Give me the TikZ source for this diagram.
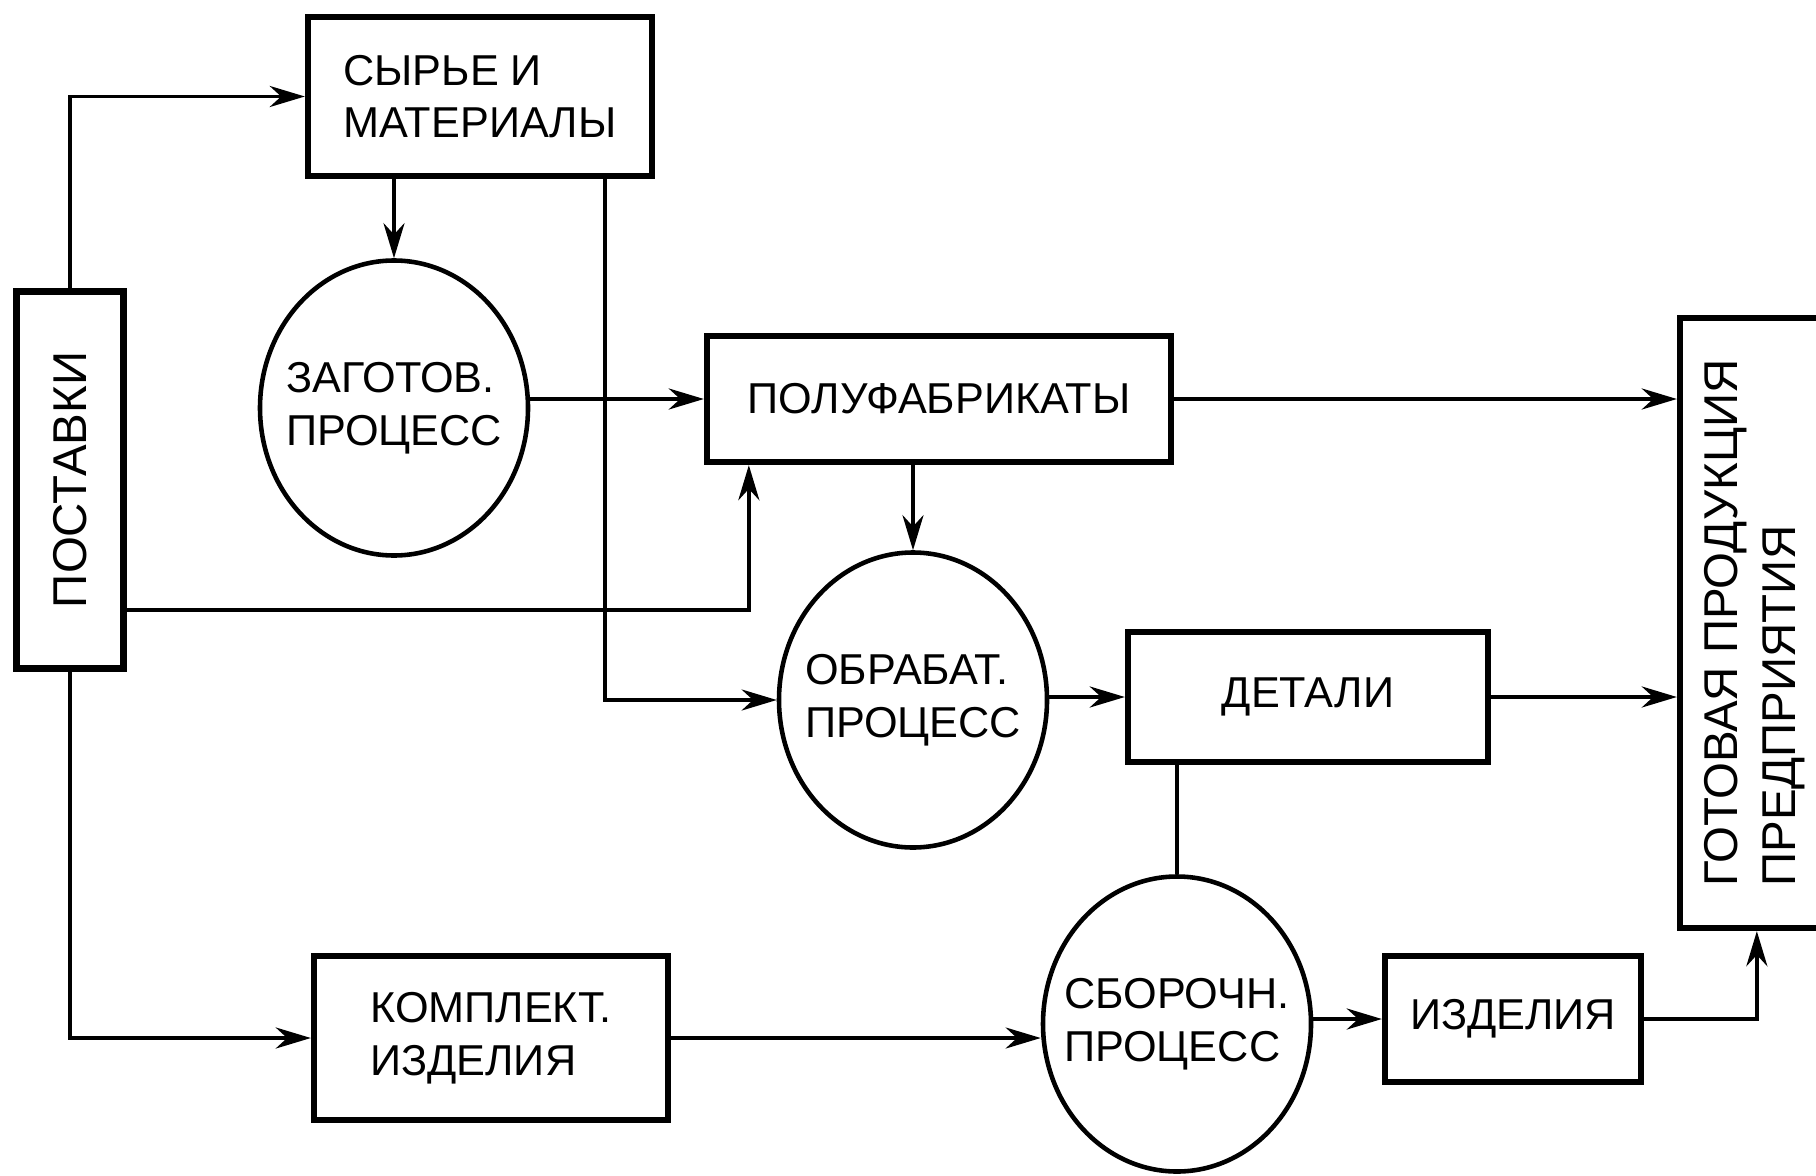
\documentclass[tikz,border=0pt]{standalone}
\usepackage{fontspec}
\setmainfont{Liberation Sans}
\usepackage{tikz}
\usetikzlibrary{shapes,arrows.meta,positioning,calc}

\begin{document}
\begin{tikzpicture}[
    block/.style={rectangle, draw, line width=1.8pt, align=left, inner sep=2pt, font=\fontsize{12.3}{15}\selectfont},
    proc/.style={ellipse, draw, line width=1.3pt, align=left, inner sep=-0.25cm, minimum width=2.68cm, minimum height=2.95cm, font=\fontsize{12.3}{15}\selectfont},
    arrow/.style={-{Stealth[length=10pt, width=6pt]}, line width=1pt},
    link/.style={line width=1pt}
]
\useasboundingbox (0,0) rectangle (18.16,-11.75);

% Supply and raw materials
\node[block, minimum width=1.07cm, minimum height=3.77cm, font=\fontsize{13.5}{16}\selectfont] (post) at (0.70,-4.80) {\rotatebox{90}{ПОСТАВКИ}};
\node[block, minimum width=3.44cm, minimum height=1.59cm] (syr) at (4.80,-0.965) {СЫРЬЕ И\\МАТЕРИАЛЫ};

% Processes
\node[proc] (zag) at (3.94,-4.08) {ЗАГОТОВ.\\ПРОЦЕСС};
\node[proc] (obr) at (9.13,-7.00) {ОБРАБАТ.\\ПРОЦЕСС};
\node[proc] (sbo) at (11.77,-10.24) {СБОРОЧН.\\ПРОЦЕСС};

% Intermediate products
\node[block, minimum width=4.64cm, minimum height=1.26cm] (pol) at (9.39,-3.99) {ПОЛУФАБРИКАТЫ};
\node[block, minimum width=3.60cm, minimum height=1.30cm] (det) at (13.08,-6.97) {ДЕТАЛИ};
\node[block, minimum width=3.54cm, minimum height=1.64cm] (kom) at (4.91,-10.38) {КОМПЛЕКТ.\\ИЗДЕЛИЯ};
\node[block, minimum width=2.56cm, minimum height=1.26cm] (izd) at (15.13,-10.19) {ИЗДЕЛИЯ};

% Finished output
\node[block, minimum width=1.5cm, minimum height=6.1cm] (got) at (17.55,-6.23) {};
\node[align=left, font=\fontsize{13.5}{16.5}\selectfont] (gottxt) at (got) {\rotatebox{90}{\begin{tabular}{@{}l@{}}ГОТОВАЯ ПРОДУКЦИЯ\\ПРЕДПРИЯТИЯ\end{tabular}}};

% Supply lines
\draw[arrow] (post.north) |- (syr.west);
\draw[arrow] ([yshift=-1.3cm]post.east) -| ([xshift=0.45cm]pol.south west);
\draw[arrow] (post.south) |- (kom.west);

% Material flow
\draw[arrow] (zag.north |- syr.south) -- (zag.north);
\draw[arrow] ([xshift=-0.5cm]syr.south east) |- (obr.west);
\draw[arrow] (zag.east |- pol.west) -- (pol.west);
\draw[arrow] (obr.north |- pol.south) -- (obr.north);
\draw[arrow] (obr.east |- det.west) -- (det.west);
\draw[link] (sbo.north |- det.south) -- (sbo.north);
\draw[arrow] (kom.east) -- (kom.east -| sbo.west);
\draw[arrow] (sbo.east |- izd.west) -- (izd.west);

% Into finished output
\draw[arrow] (pol.east) -- (pol.east -| got.west);
\draw[arrow] (det.east) -- (det.east -| got.west);
\draw[arrow] (izd.east) -| ([xshift=0.8cm]got.south west);

\end{tikzpicture}
\end{document}
